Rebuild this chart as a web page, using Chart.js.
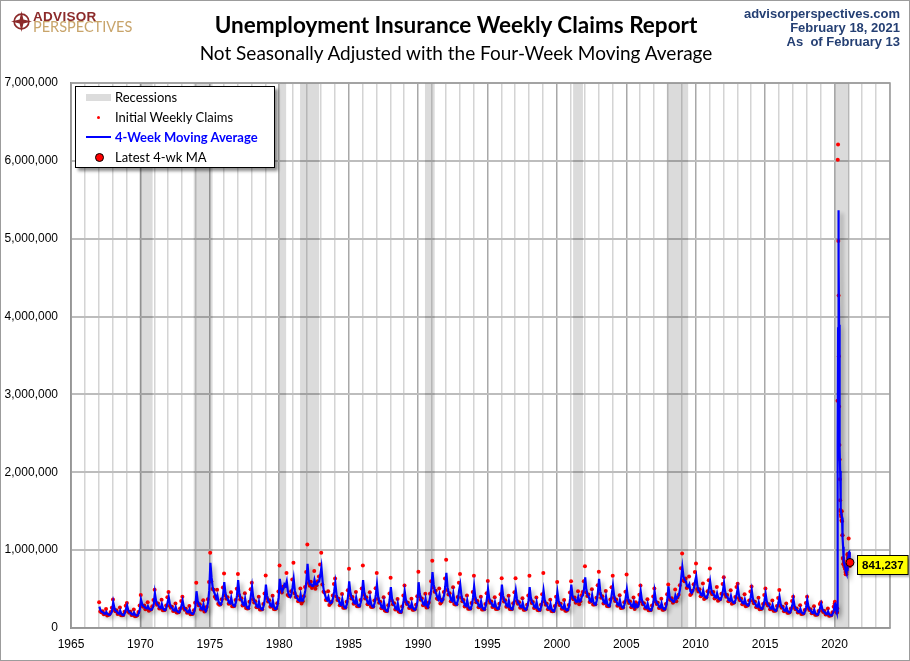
<!DOCTYPE html>
<html>
<head>
<meta charset="utf-8">
<title>Unemployment Insurance Weekly Claims Report</title>
<script src="https://cdn.jsdelivr.net/npm/chart.js@4.4.1/dist/chart.umd.min.js"></script>
<style>
  html, body { margin: 0; padding: 0; background: #fff; }
  #wrap { position: relative; width: 910px; height: 661px; overflow: hidden; }
  #chart { position: absolute; left: 0; top: 0; }
  #frame { position: absolute; left: 0; top: 0; width: 908px; height: 659px; border: 1px solid #9c9c9c; pointer-events: none; }
  .title { position: absolute; left: 0; width: 912px; text-align: center; font-family: Lato, "Open Sans", sans-serif; color: #000; white-space: nowrap; }
  #t1 { top: 12px; font-size: 22.5px; line-height: 26px; font-weight: bold; }
  #t2 { top: 42px; font-size: 19px; line-height: 22px; }
  #site { position: absolute; right: 10px; top: 7px; text-align: right; font: bold 13px/14.2px "Liberation Sans", Arial, sans-serif; color: #243f73; }
  #logo { position: absolute; left: 11px; top: 10px; width: 130px; height: 24px; }
  #logo svg { position: absolute; left: 0; top: 1px; }
  #logo .l1 { position: absolute; left: 22px; top: 0px; font: bold 13.5px/13px "Liberation Sans", Arial, sans-serif; color: #8c2a2a; letter-spacing: 0.3px; }
  #logo .l2 { position: absolute; left: 22px; top: 10px; font: 14.5px/14px Lato, sans-serif; color: #c8a46a; }
  #legend { position: absolute; left: 75px; top: 86px; width: 198px; height: 80px; background: #fff; border: 1px solid #000; box-shadow: 3px 3px 3px rgba(0,0,0,0.45); font-family: Lato, "Open Sans", sans-serif; font-size: 13px; }
  #legend .row { position: absolute; left: 0; height: 20px; line-height: 20px; width: 198px; }
  #legend .txt { position: absolute; left: 39px; top: 0; white-space: nowrap; }
  #legend .blue .txt { color: #0000ff; font-weight: bold; }
  .sw-rect { position: absolute; left: 10px; top: 7px; width: 25px; height: 7px; background: #dcdcdc; }
  .sw-dot { position: absolute; left: 21px; top: 9px; width: 3px; height: 3px; border-radius: 50%; background: #ff0000; }
  .sw-line { position: absolute; left: 10px; top: 9px; width: 25px; height: 2px; background: #0000ff; }
  .sw-big { position: absolute; left: 19px; top: 6px; width: 7px; height: 7px; border-radius: 50%; background: #ff0000; border: 1px solid #000; }
</style>
</head>
<body>
<div id="wrap">
  <canvas id="chart" width="910" height="661"></canvas>
  <div id="logo">
    <svg width="21" height="21" viewBox="0 0 20 20">
      <circle cx="10" cy="10" r="7" fill="none" stroke="#8c2a2a" stroke-width="1.6"/>
      <path d="M10 0 L11.8 8.2 L20 10 L11.8 11.8 L10 20 L8.2 11.8 L0 10 L8.2 8.2 Z" fill="#8c2a2a"/>
    </svg>
    <div class="l1">ADVISOR</div>
    <div class="l2">PERSPECTIVES</div>
  </div>
  <div class="title" id="t1">Unemployment Insurance Weekly Claims Report</div>
  <div class="title" id="t2">Not Seasonally Adjusted with the Four-Week Moving Average</div>
  <div id="site">advisorperspectives.com<br>February 18, 2021<br>As&nbsp; of February 13</div>
  <div id="legend">
    <div class="row" style="top:0px"><span class="sw-rect"></span><span class="txt">Recessions</span></div>
    <div class="row" style="top:20px"><span class="sw-dot"></span><span class="txt">Initial Weekly Claims</span></div>
    <div class="row blue" style="top:40px"><span class="sw-line"></span><span class="txt">4-Week Moving Average</span></div>
    <div class="row" style="top:60px"><span class="sw-big"></span><span class="txt">Latest 4-wk MA</span></div>
  </div>
  <div id="frame"></div>
</div>
<script>
// values in thousands of claims
// monthly samples Jan..Dec, one row per year

const ma1960s = [
    275, 228, 207, 202, 186, 183, 207, 180, 172, 170, 186, 217, // 1967
    330, 256, 223, 215, 190, 185, 223, 182, 168, 165, 190, 239, // 1968
    290, 229, 202, 196, 175, 171, 202, 169, 158, 160, 185, 240  // 1969
];
const claims1960s = [
    330, 212, 201, 214, 177, 183, 244, 162, 169, 173, 205, 260,
    365, 238, 216, 228, 180, 185, 263, 164, 165, 168, 209, 287,
    320, 213, 196, 208, 166, 171, 238, 152, 155, 163, 204, 290
];

const ma1970s = [
    365, 307, 281, 274, 255, 251, 281, 248, 238, 235, 255, 300, // 1970
    450, 351, 307, 296, 263, 256, 307, 252, 234, 230, 263, 329,
    395, 307, 268, 258, 229, 223, 268, 220, 204, 200, 229, 288,
    352, 275, 240, 232, 206, 201, 240, 197, 183, 180, 206, 270,
    472, 354, 302, 289, 249, 241, 302, 236, 215, 250, 330, 480,
    837, 650, 520, 470, 430, 380, 420, 340, 310, 300, 340, 430, // 1975
    588, 449, 388, 372, 326, 317, 388, 311, 286, 280, 326, 419,
    614, 450, 377, 359, 305, 294, 377, 286, 257, 250, 305, 414,
    530, 398, 339, 324, 280, 271, 339, 265, 242, 236, 280, 368,
    558, 415, 351, 335, 288, 278, 351, 272, 246, 245, 290, 390
];
const claims1970s = [
    425, 285, 273, 290, 242, 251, 332, 223, 233, 240, 280, 360,
    490, 326, 298, 314, 250, 256, 362, 227, 229, 235, 289, 395,
    463, 286, 260, 273, 218, 223, 316, 198, 200, 204, 252, 346,
    400, 256, 233, 246, 196, 201, 283, 177, 179, 184, 227, 325,
    580, 329, 293, 306, 237, 241, 356, 212, 225, 270, 370, 590,
    966, 600, 500, 490, 400, 380, 490, 310, 300, 305, 370, 520,
    700, 418, 376, 394, 310, 317, 458, 280, 280, 286, 359, 503,
    695, 419, 366, 381, 290, 294, 445, 257, 252, 255, 336, 497,
    580, 370, 329, 343, 266, 271, 400, 239, 237, 241, 308, 442,
    674, 386, 340, 355, 274, 278, 414, 245, 241, 250, 319, 468
];

const ma1980s = [
    631, 520, 470, 500, 560, 540, 600, 470, 420, 400, 430, 520, // 1980
    631, 480, 410, 380, 360, 350, 430, 350, 350, 400, 480, 600,
    824, 620, 560, 560, 540, 540, 620, 560, 560, 590, 600, 680,
    781, 600, 480, 430, 380, 360, 400, 330, 320, 330, 380, 470,
    580, 435, 371, 355, 306, 297, 371, 290, 264, 258, 306, 403,
    600, 456, 391, 375, 327, 318, 391, 311, 285, 279, 327, 423, // 1985
    614, 459, 390, 373, 322, 311, 390, 304, 277, 270, 322, 425,
    558, 404, 335, 318, 266, 256, 335, 249, 222, 215, 266, 369,
    524, 379, 315, 299, 250, 241, 315, 234, 208, 202, 250, 347,
    470, 365, 318, 306, 271, 264, 318, 259, 241, 236, 271, 341
];
const claims1980s = [
    803, 484, 456, 530, 532, 540, 708, 423, 412, 408, 473, 624,
    837, 446, 398, 403, 342, 350, 507, 315, 343, 408, 528, 720,
    1073, 577, 543, 594, 513, 540, 732, 504, 549, 602, 660, 816,
    966, 558, 466, 456, 361, 360, 472, 297, 314, 337, 418, 564,
    635, 405, 360, 376, 291, 297, 438, 261, 259, 263, 337, 484,
    760, 424, 379, 398, 311, 318, 461, 280, 279, 285, 360, 508,
    803, 427, 378, 395, 306, 311, 460, 274, 271, 275, 354, 510,
    708, 376, 325, 337, 253, 256, 395, 224, 218, 219, 293, 443,
    644, 352, 306, 317, 238, 241, 372, 211, 204, 206, 275, 416,
    545, 339, 308, 324, 257, 264, 375, 233, 236, 241, 298, 409
];

const ma1990s = [
    588, 440, 374, 357, 308, 298, 374, 291, 270, 320, 400, 500, // 1990
    717, 560, 480, 450, 400, 370, 430, 350, 340, 360, 420, 530,
    708, 524, 443, 422, 361, 349, 443, 341, 308, 300, 361, 484,
    558, 417, 355, 339, 292, 283, 355, 276, 251, 245, 292, 386,
    536, 401, 341, 326, 281, 272, 341, 266, 242, 236, 281, 371,
    500, 385, 334, 322, 283, 276, 334, 271, 250, 245, 283, 360, // 1995
    558, 415, 351, 335, 288, 278, 351, 272, 246, 240, 288, 383,
    485, 373, 323, 311, 273, 266, 323, 261, 241, 236, 273, 348,
    524, 390, 331, 316, 272, 263, 331, 257, 233, 227, 272, 361,
    481, 361, 308, 295, 255, 247, 308, 242, 220, 215, 255, 335
];
const claims1990s = [
    721, 409, 363, 378, 293, 298, 441, 262, 265, 326, 440, 600,
    863, 521, 466, 477, 380, 370, 507, 315, 333, 367, 462, 636,
    876, 487, 430, 447, 343, 349, 523, 307, 302, 306, 397, 581,
    695, 388, 344, 359, 277, 283, 419, 248, 246, 250, 321, 463,
    670, 373, 331, 346, 267, 272, 402, 239, 237, 241, 309, 445,
    605, 358, 324, 341, 269, 276, 394, 244, 245, 250, 311, 432,
    640, 386, 340, 355, 274, 278, 414, 245, 241, 245, 317, 460,
    640, 347, 313, 330, 259, 266, 381, 235, 236, 241, 300, 418,
    670, 363, 321, 335, 258, 263, 391, 231, 228, 232, 299, 433,
    708, 336, 299, 313, 242, 247, 363, 218, 216, 219, 281, 402
];

const ma2000s = [
    460, 353, 306, 294, 259, 251, 306, 247, 228, 230, 270, 380, // 2000
    558, 420, 380, 370, 340, 340, 400, 340, 350, 400, 420, 500,
    652, 494, 423, 406, 353, 342, 423, 335, 307, 300, 353, 458,
    631, 473, 402, 385, 332, 321, 402, 314, 286, 279, 332, 437,
    545, 416, 358, 344, 301, 292, 358, 287, 264, 258, 301, 387,
    494, 382, 332, 320, 282, 275, 332, 270, 300, 270, 282, 357, // 2005
    472, 362, 313, 301, 264, 256, 313, 252, 232, 227, 264, 337,
    472, 366, 319, 307, 271, 264, 319, 260, 241, 240, 280, 360,
    536, 400, 370, 360, 340, 340, 420, 380, 400, 420, 500, 640,
    781, 660, 620, 600, 540, 530, 560, 470, 450, 470, 510, 600
];
const claims2000s = [
    592, 328, 297, 312, 246, 251, 361, 222, 223, 235, 297, 456,
    600, 391, 369, 392, 323, 340, 472, 306, 343, 420, 462, 600,
    794, 459, 410, 430, 335, 342, 499, 302, 301, 306, 388, 550,
    721, 440, 390, 408, 315, 321, 474, 283, 280, 285, 365, 524,
    670, 387, 347, 365, 286, 292, 422, 258, 259, 263, 331, 464,
    687, 355, 322, 339, 268, 275, 392, 243, 330, 275, 310, 428,
    545, 337, 304, 319, 251, 256, 369, 227, 227, 232, 290, 404,
    506, 340, 309, 325, 257, 264, 376, 234, 236, 245, 308, 432,
    558, 372, 359, 382, 323, 340, 496, 342, 392, 428, 550, 768,
    957, 614, 601, 636, 513, 530, 661, 423, 441, 479, 561, 720
];

const ma2010s = [
    665, 539, 484, 470, 428, 419, 484, 414, 392, 386, 428, 512, // 2010
    600, 494, 447, 436, 400, 393, 447, 389, 370, 365, 400, 471,
    580, 464, 412, 399, 361, 353, 412, 348, 327, 322, 361, 438,
    515, 413, 367, 356, 322, 315, 367, 311, 293, 288, 322, 390,
    485, 377, 329, 317, 281, 274, 329, 269, 250, 245, 281, 353,
    440, 342, 298, 287, 255, 248, 298, 244, 226, 222, 255, 320, // 2015
    400, 309, 268, 258, 227, 221, 268, 217, 201, 197, 227, 288,
    370, 285, 248, 238, 210, 205, 248, 201, 186, 182, 210, 267,
    360, 275, 237, 227, 199, 193, 237, 189, 174, 170, 199, 256,
    310, 243, 213, 205, 183, 178, 213, 175, 163, 160, 183, 228
];
const claims2010s = [
    828, 501, 469, 498, 407, 419, 571, 373, 384, 394, 471, 614,
    764, 459, 434, 462, 380, 393, 527, 350, 363, 372, 440, 565,
    652, 432, 400, 423, 343, 353, 486, 313, 320, 328, 397, 526,
    567, 384, 356, 377, 306, 315, 433, 280, 287, 294, 354, 468,
    532, 351, 319, 336, 267, 274, 388, 242, 245, 250, 309, 424,
    508, 318, 289, 304, 242, 248, 352, 220, 221, 226, 281, 384,
    487, 287, 260, 273, 216, 221, 316, 195, 197, 201, 250, 346,
    400, 265, 241, 252, 200, 205, 293, 181, 182, 186, 231, 320,
    402, 256, 230, 241, 189, 193, 280, 170, 171, 173, 219, 307,
    330, 226, 207, 217, 174, 178, 251, 158, 160, 163, 201, 274
];

// weekly from week ending Jan 4, 2020 to Feb 13, 2021
const firstWeek2020 = '2020-01-04';
const claims2020 = [
    310, 338, 290, 250, 240, 225, 215, 210, 205, 200, 251, 2920,
    6015, 6210, 4970, 4270, 3490, 2845, 2350, 2165, 1910, 1640, 1515, 1500,
    1455, 1430, 1380, 1500, 1370, 1190, 1190, 900, 890, 820, 830, 860,
    800, 820, 780, 760, 760, 720, 690, 700, 690, 720, 800, 770,
    940, 950, 900, 850, 920, 1150, 950, 880, 840, 850, 795
];
const ma2020 = [
    285, 307, 310, 297, 280, 251, 233, 223, 214, 208, 217, 894,
    2347, 3849, 5029, 5366, 4735, 3894, 3239, 2713, 2318, 2016, 1808, 1641,
    1528, 1475, 1441, 1441, 1420, 1360, 1313, 1163, 1043, 950, 860, 850,
    828, 828, 815, 790, 780, 755, 733, 718, 700, 700, 728, 745,
    808, 865, 890, 910, 905, 955, 968, 975, 955, 880, 841.237
];

const latestLabel = '841,237';

// NBER recessions (last one still open at report time)
const recessionStart = [1969.92, 1973.84, 1980.0, 1981.5, 1990.5, 2001.17, 2007.92, 2020.05];
const recessionEnd   = [1970.88, 1975.2, 1980.5, 1982.88, 1991.2, 2001.88, 2009.46, 2021.06];

const xMin = 1965, xMax = 2024;
const yTicks = [0, 1000, 2000, 3000, 4000, 5000, 6000, 7000];

// ---- build point lists ----
const monthlyBlocks = [
    { start: 1967, ma: ma1960s, claims: claims1960s },
    { start: 1970, ma: ma1970s, claims: claims1970s },
    { start: 1980, ma: ma1980s, claims: claims1980s },
    { start: 1990, ma: ma1990s, claims: claims1990s },
    { start: 2000, ma: ma2000s, claims: claims2000s },
    { start: 2010, ma: ma2010s, claims: claims2010s }
];

const maPoints = [];
const claimPoints = [];
monthlyBlocks.forEach(b => {
    b.ma.forEach((v, i) => {
        const yr = b.start + Math.floor(i / 12), m = i % 12;
        maPoints.push({ x: yr + (m + 0.5) / 12, y: v });
        claimPoints.push({ x: yr + (m + 0.3) / 12, y: b.claims[i] });
    });
});

function fracYear(d) {
    const y = d.getUTCFullYear();
    const start = Date.UTC(y, 0, 1), end = Date.UTC(y + 1, 0, 1);
    return y + (d.getTime() - start) / (end - start);
}
const week0 = new Date(firstWeek2020 + 'T00:00:00Z');
claims2020.forEach((v, i) => {
    const d = new Date(week0.getTime() + i * 7 * 86400000);
    const fx = fracYear(d);
    claimPoints.push({ x: fx, y: v });
    maPoints.push({ x: fx, y: ma2020[i] });
});
const latestPoint = maPoints[maPoints.length - 1];

// ---- plugins ----
const recessionPlugin = {
    id: 'recessions',
    beforeDatasetsDraw(chart) {
        const { ctx, chartArea: a, scales: { x } } = chart;
        ctx.save();
        ctx.fillStyle = 'rgba(0,0,0,0.14)';
        recessionStart.forEach((s, i) => {
            const x0 = x.getPixelForValue(s), x1 = x.getPixelForValue(recessionEnd[i]);
            ctx.fillRect(x0, a.top, x1 - x0, a.bottom - a.top);
        });
        // plot frame
        ctx.strokeStyle = '#9a9a9a';
        ctx.lineWidth = 1.5;
        ctx.strokeRect(a.left, a.top, a.right - a.left, a.bottom - a.top);
        ctx.restore();
    }
};

const shadowPlugin = {
    id: 'lineShadow',
    beforeDatasetDraw(chart, args) {
        if (args.index !== 1) return;
        const ctx = chart.ctx;
        ctx.save();
        ctx.shadowColor = 'rgba(0,0,0,0.35)';
        ctx.shadowBlur = 4;
        ctx.shadowOffsetX = 3;
        ctx.shadowOffsetY = 3;
    },
    afterDatasetDraw(chart, args) {
        if (args.index !== 1) return;
        chart.ctx.restore();
    }
};

const latestTagPlugin = {
    id: 'latestTag',
    afterDatasetsDraw(chart) {
        const pt = chart.getDatasetMeta(2).data[0];
        if (!pt) return;
        const ctx = chart.ctx;
        ctx.save();
        ctx.font = 'bold 11.5px "Liberation Sans", Arial, sans-serif';
        const w = ctx.measureText(latestLabel).width + 9;
        const h = 19;
        const bx = Math.round(pt.x + 7) + 0.5, by = Math.round(pt.y - 8) + 0.5;
        ctx.shadowColor = 'rgba(0,0,0,0.3)';
        ctx.shadowOffsetX = 2;
        ctx.shadowOffsetY = 2;
        ctx.shadowBlur = 2;
        ctx.fillStyle = '#ffff00';
        ctx.fillRect(bx, by, w, h);
        ctx.shadowColor = 'transparent';
        ctx.strokeStyle = '#000';
        ctx.lineWidth = 1;
        ctx.strokeRect(bx, by, w, h);
        ctx.fillStyle = '#000';
        ctx.textBaseline = 'middle';
        ctx.textAlign = 'center';
        ctx.fillText(latestLabel, bx + w / 2, by + h / 2 + 0.5);
        ctx.restore();
    }
};

new Chart(document.getElementById('chart').getContext('2d'), {
    type: 'line',
    data: {
        datasets: [
            {
                label: 'Initial Weekly Claims',
                data: claimPoints,
                showLine: false,
                pointRadius: 2,
                pointBorderWidth: 0,
                pointBackgroundColor: '#ff0000',
                borderColor: '#ff0000',
                order: 3
            },
            {
                label: '4-Week Moving Average',
                data: maPoints,
                borderColor: '#0000ff',
                borderWidth: 2.2,
                pointRadius: 0,
                tension: 0,
                fill: false,
                order: 2
            },
            {
                label: 'Latest 4-wk MA',
                data: [latestPoint],
                showLine: false,
                pointRadius: 4,
                pointBackgroundColor: '#ff0000',
                pointBorderColor: '#000',
                pointBorderWidth: 1,
                order: 1
            }
        ]
    },
    options: {
        responsive: false,
        animation: false,
        layout: { padding: { top: 83, right: 20, bottom: 0, left: 0 } },
        plugins: {
            legend: { display: false },
            tooltip: { enabled: false }
        },
        scales: {
            x: {
                type: 'linear',
                min: xMin,
                max: xMax,
                afterFit: s => { s.height = 33; },
                afterBuildTicks: s => {
                    s.ticks = [];
                    for (let v = xMin; v <= xMax; v++) s.ticks.push({ value: v });
                },
                ticks: {
                    autoSkip: false,
                    maxRotation: 0,
                    padding: 9,
                    color: '#000',
                    font: { family: '"Liberation Sans", Arial, sans-serif', size: 12 },
                    callback: v => (v % 5 === 0 && v < xMax) ? String(v) : ''
                },
                grid: {
                    drawTicks: false,
                    lineWidth: 1.5,
                    color: c => (c.tick && c.tick.value % 5 === 0) ? '#a8a8a8' : '#d4d4d4'
                },
                border: { color: '#8a8a8a', width: 1.5 }
            },
            y: {
                min: 0,
                max: 7000,
                afterFit: s => { s.width = 71; },
                afterBuildTicks: s => { s.ticks = yTicks.map(v => ({ value: v })); },
                ticks: {
                    padding: 13,
                    color: '#000',
                    font: { family: '"Liberation Sans", Arial, sans-serif', size: 12 },
                    callback: v => (v * 1000).toLocaleString('en-US')
                },
                grid: { drawTicks: false, color: '#bdbdbd', lineWidth: 2 },
                border: { color: '#8a8a8a', width: 1.5 }
            }
        }
    },
    plugins: [recessionPlugin, shadowPlugin, latestTagPlugin]
});
</script>
</body>
</html>
